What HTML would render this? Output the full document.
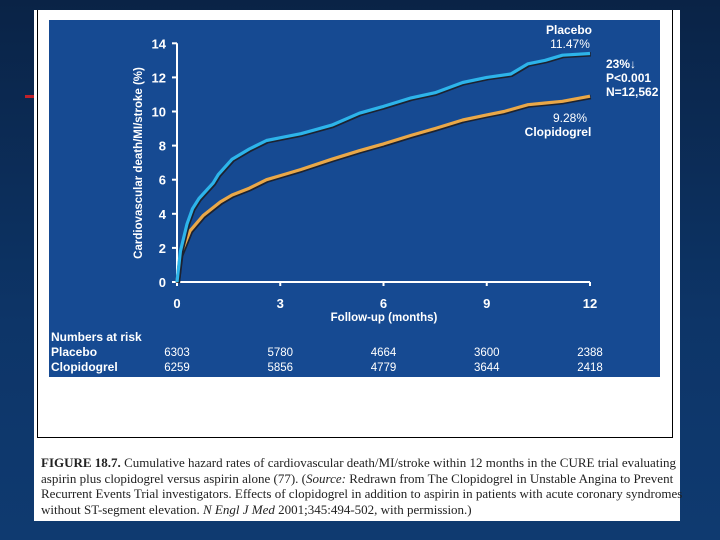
<!DOCTYPE html>
<html><head><meta charset="utf-8"><style>
html,body{margin:0;padding:0}
body{width:720px;height:540px;overflow:hidden;background:linear-gradient(180deg,#0a2346 0%,#0d3568 60%,#0f3a70 100%);position:relative;font-family:"Liberation Sans",sans-serif}
#sheet{position:absolute;left:34px;top:10px;width:646px;height:511px;background:#fff}
#frame{position:absolute;left:37px;top:10px;width:634px;height:427px;border-left:1.5px solid #000;border-right:1.5px solid #000;border-bottom:1.5px solid #000}
#caption{position:absolute;left:41px;top:455px;width:640px;font-family:"Liberation Serif",serif;font-size:13px;line-height:15.7px;color:#222;letter-spacing:0px;white-space:nowrap}
#redmark{position:absolute;left:25px;top:95px;width:9px;height:3px;background:#c0202a}
</style></head><body>
<div id="redmark"></div>
<div id="sheet"></div>
<div id="frame"></div>
<svg id="chart" width="720" height="540" style="position:absolute;left:0;top:0" font-family="Liberation Sans, sans-serif" font-weight="bold">
<rect x="49" y="20" width="611" height="357" fill="#164a92"/>
<g id="axes"></g>
<g id="series"></g>
<g id="labels" fill="#fff" font-size="12">
<text transform="translate(142,163) rotate(-90)" text-anchor="middle" font-size="11.5">Cardiovascular death/MI/stroke (%)</text>
<text x="384" y="321" text-anchor="middle" font-size="11.5">Follow-up (months)</text>
<text x="569" y="34" text-anchor="middle">Placebo</text>
<text x="570" y="48" text-anchor="middle" font-weight="normal">11.47%</text>
<text x="606" y="68">23%↓</text>
<text x="606" y="82">P&lt;0.001</text>
<text x="606" y="96">N=12,562</text>
<text x="570" y="122" text-anchor="middle" font-weight="normal">9.28%</text>
<text x="558" y="136" text-anchor="middle">Clopidogrel</text>
<text x="51" y="341">Numbers at risk</text>
<text x="51" y="356">Placebo</text>
<text x="51" y="371">Clopidogrel</text>
</g>
<g id="risk" fill="#fff" font-size="11.5" font-weight="normal"></g>
</svg>
<div id="caption"><b>FIGURE 18.7.</b> Cumulative hazard rates of cardiovascular death/MI/stroke within 12 months in the CURE trial evaluating<br>aspirin plus clopidogrel versus aspirin alone (77). (<i>Source:</i> Redrawn from The Clopidogrel in Unstable Angina to Prevent<br>Recurrent Events Trial investigators. Effects of clopidogrel in addition to aspirin in patients with acute coronary syndromes<br>without ST-segment elevation. <i>N Engl J Med</i> 2001;345:494-502, with permission.)</div>
<script>
const xTicks=[0,3,6,9,12];
const yTicks=[0,2,4,6,8,10,12,14];
const placeboMonths=[0,0.1,0.29,0.45,0.64,1.05,1.2,1.6,2.1,2.6,3.1,3.6,4.5,5.3,6,6.8,7.5,8.3,9,9.7,10.2,10.7,11.2,12];
const placeboValues=[0,1.8,3.4,4.3,4.9,5.8,6.3,7.2,7.8,8.3,8.5,8.7,9.2,9.9,10.3,10.8,11.1,11.7,12.0,12.2,12.8,13.0,13.3,13.4];
const clopMonths=[0,0.1,0.38,0.76,1.26,1.6,2.1,2.6,3.1,3.6,4.5,5.3,6,6.8,7.5,8.3,9,9.5,10.2,10.7,11.2,12];
const clopValues=[0,1.6,3.0,3.9,4.7,5.1,5.5,6.0,6.3,6.6,7.2,7.7,8.1,8.6,9.0,9.5,9.8,10.0,10.4,10.5,10.6,10.9];
const riskPlacebo=[6303,5780,4664,3600,2388];
const riskClop=[6259,5856,4779,3644,2418];
const NS='http://www.w3.org/2000/svg';
const X=m=>177+m*(590-177)/12;
const Y=v=>282-v*17.05;
function mk(tag,attrs,parent){const e=document.createElementNS(NS,tag);for(const k in attrs)e.setAttribute(k,attrs[k]);parent.appendChild(e);return e;}
const axes=document.getElementById('axes');
let a=mk('line',{x1:X(0),y1:Y(0),x2:X(12),y2:Y(0),stroke:'#fff','stroke-width':2},axes);


a=mk('line',{x1:X(0),y1:Y(0),x2:X(0),y2:Y(14),stroke:'#fff','stroke-width':2},axes);


yTicks.forEach(v=>{
 const t=mk('line',{x1:X(0)-5,y1:Y(v),x2:X(0),y2:Y(v),stroke:'#fff','stroke-width':2},axes);
 
 
 const l=mk('text',{x:X(0)-11,y:Y(v)+5,'text-anchor':'end',fill:'#fff','font-size':13},axes);
 l.textContent=v;
 
 
});
xTicks.forEach(m=>{
 const t=mk('line',{x1:X(m),y1:Y(0),x2:X(m),y2:Y(0)+4,stroke:'#fff','stroke-width':2},axes);
 
 
 const l=mk('text',{x:X(m),y:308,'text-anchor':'middle',fill:'#fff','font-size':13},axes);
 l.textContent=m;
 
 
});
const ser=document.getElementById('series');
function pts(ms,vs){return ms.map((m,i)=>X(m).toFixed(1)+','+Y(vs[i]).toFixed(1)).join(' ');}
[[clopMonths,clopValues,'#eaa848','clopidogrel'],[placeboMonths,placeboValues,'#2db4ea','placebo']].forEach(s=>{
 const sh=mk('polyline',{points:pts(s[0],s[1]),fill:'none',stroke:'#1c2230','stroke-width':4.5,'stroke-linejoin':'round',transform:'translate(0.8,0.8)'},ser);
 
 
 const p=mk('polyline',{points:pts(s[0],s[1]),fill:'none',stroke:s[2],'stroke-width':3.2,'stroke-linejoin':'round'},ser);
 
 
});
const risk=document.getElementById('risk');
xTicks.forEach((m,i)=>{
 let t=mk('text',{x:X(m),y:356,'text-anchor':'middle'},risk);
 t.textContent=riskPlacebo[i];
 
 
 t=mk('text',{x:X(m),y:371,'text-anchor':'middle'},risk);
 t.textContent=riskClop[i];
 
 
});
</script>
</body></html>
